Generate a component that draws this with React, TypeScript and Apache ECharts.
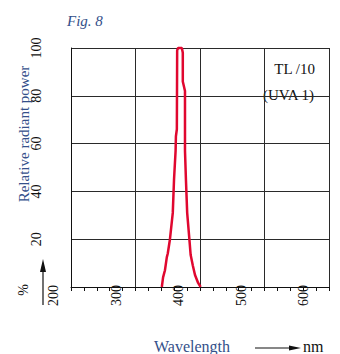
import React, { useEffect, useRef } from "react";
import * as echarts from "echarts";

const wavelengths = [373, 375, 378, 381, 382.5, 386, 390.5, 392.5, 395, 395.5, 397, 397.5, 399, 402, 405, 406.5, 406.5, 410, 410, 411.5, 413.5, 417, 419, 422.5, 426, 431, 435];
const power = [0, 4, 7, 12.5, 14, 20, 31, 45, 57, 63, 66, 99, 100, 100, 100, 98, 86, 82, 57, 45, 31, 20, 13.5, 9, 5, 1.7, 0];
const yTicks = [0, 20, 40, 60, 80, 100];
const xLabelTicks = [200, 300, 400, 500, 600];

const SERIF = "'Liberation Serif', 'Times New Roman', serif";
const BLUE = "#34508a";
const RED = "#e0072f";
const GRID = "#2a2a2a";

export default function App() {
  const ref = useRef<HTMLDivElement>(null);
  useEffect(() => {
    if (!ref.current) return;
    const chart = echarts.init(ref.current, undefined, { renderer: "svg" });
    const data = wavelengths.map((w, i) => [w, power[i]]);
    chart.setOption({
      animation: false,
      backgroundColor: "#ffffff",
      grid: [
        { left: 71, top: 48, width: 258, height: 239 },
        { left: 53.5, top: 48, width: 275.5, height: 239 },
      ],
      xAxis: [
        {
          type: "value", gridIndex: 0, min: 0, max: 4, interval: 1,
          axisLine: { show: true, lineStyle: { color: "#111", width: 1 } },
          axisTick: { show: true, inside: false, length: 4, lineStyle: { color: "#111" } },
          minorTick: { show: true, splitNumber: 5, length: 4, lineStyle: { color: "#111" } },
          axisLabel: { show: false },
          splitLine: { show: true, lineStyle: { color: GRID, width: 1 } },
        },
        {
          type: "value", gridIndex: 1, min: xLabelTicks[0], max: 640, interval: 100,
          axisLine: { show: false }, axisTick: { show: false }, splitLine: { show: false },
          axisLabel: {
            show: true, rotate: 90, margin: -2,
            fontFamily: SERIF, fontSize: 14, color: "#111",
            customValues: xLabelTicks,
          },
        },
      ],
      yAxis: [
        {
          type: "value", gridIndex: 0, min: yTicks[0], max: yTicks[yTicks.length - 1], interval: 20,
          axisLine: { show: true, lineStyle: { color: "#111", width: 1 } },
          axisTick: { show: false },
          axisLabel: {
            show: true, rotate: 90, margin: 28, showMinLabel: false,
            fontFamily: SERIF, fontSize: 14, color: "#111",
          },
          splitLine: { show: true, lineStyle: { color: GRID, width: 1 } },
        },
        {
          type: "value", gridIndex: 1, min: 0, max: 100, show: false,
        },
      ],
      series: [
        {
          type: "line", xAxisIndex: 1, yAxisIndex: 1, data,
          showSymbol: false, symbol: "none", clip: false,
          lineStyle: { color: RED, width: 2.5 },
        },
      ],
      graphic: [
        { type: "text", left: 67, top: 13, style: { text: "Fig. 8", fontFamily: SERIF, fontStyle: "italic", fontSize: 15, fill: BLUE } },
        { type: "text", x: 24, y: 134, rotation: Math.PI / 2, style: { text: "Relative radiant power", fontFamily: SERIF, fontSize: 15, fill: BLUE, align: "center", verticalAlign: "middle" } },
        { type: "text", x: 23, y: 290, rotation: Math.PI / 2, style: { text: "%", fontFamily: SERIF, fontSize: 14, fill: "#111", align: "center", verticalAlign: "middle" } },
        { type: "line", shape: { x1: 43, y1: 305, x2: 43, y2: 268 }, style: { stroke: "#111", lineWidth: 1.2 } },
        { type: "polygon", shape: { points: [[43, 259], [40, 272], [46, 272]] }, style: { fill: "#111" } },
        { type: "text", x: 192, y: 346, style: { text: "Wavelength", fontFamily: SERIF, fontSize: 16, fill: BLUE, align: "center", verticalAlign: "middle" } },
        { type: "line", shape: { x1: 255, y1: 348, x2: 292, y2: 348 }, style: { stroke: "#111", lineWidth: 1.2 } },
        { type: "polygon", shape: { points: [[301, 348], [289, 345.5], [289, 350.5]] }, style: { fill: "#111" } },
        { type: "text", x: 303, y: 346, style: { text: "nm", fontFamily: SERIF, fontSize: 16, fill: "#111", align: "left", verticalAlign: "middle" } },
        { type: "text", x: 315, y: 69, style: { text: "TL /10", fontFamily: SERIF, fontSize: 15, fill: "#111", align: "right", verticalAlign: "middle" } },
        { type: "text", x: 314, y: 95, style: { text: "(UVA 1)", fontFamily: SERIF, fontSize: 15, fill: "#111", align: "right", verticalAlign: "middle" } },
      ],
    });
    return () => chart.dispose();
  }, []);
  return (
    <div
      ref={ref}
      style={{ position: "fixed", left: 0, top: 0, width: 340, height: 354, background: "#fff" }}
    />
  );
}
